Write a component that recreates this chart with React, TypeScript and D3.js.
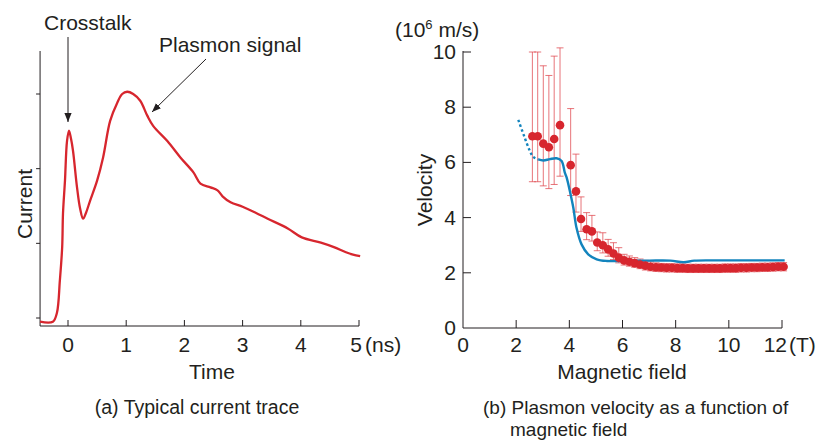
import React, { useEffect, useRef } from "react";
import * as d3 from "d3";

// (a) current trace, time in ns, current in arbitrary units
const traceTime = [-0.48, -0.26, -0.19, -0.14, -0.1, -0.086, -0.052, -0.017, 0.017, 0.052, 0.086, 0.155, 0.207, 0.259, 0.31, 0.379, 0.5, 0.603, 0.724, 0.845, 0.931, 1.017, 1.12, 1.241, 1.362, 1.466, 1.707, 1.931, 2.155, 2.276, 2.448, 2.569, 2.655, 2.793, 3.0, 3.224, 3.431, 3.776, 4.017, 4.345, 4.569, 4.776, 4.897, 5.02];
const traceCurrent = [-0.05, -0.05, 0.07, 0.5, 0.95, 1.4, 1.84, 2.37, 2.51, 2.4, 2.24, 1.75, 1.47, 1.33, 1.41, 1.57, 1.84, 2.15, 2.64, 2.88, 3.0, 3.03, 3.0, 2.91, 2.71, 2.57, 2.37, 2.15, 1.95, 1.8, 1.75, 1.71, 1.63, 1.55, 1.49, 1.41, 1.33, 1.2, 1.08, 1.01, 0.95, 0.88, 0.85, 0.83];
const timeTicks = [0, 1, 2, 3, 4, 5];
const currentTicks = [0, 1, 2, 3];

// (b) measured velocity (10^6 m/s) vs magnetic field (T)
const fieldT = [2.61, 2.81, 3.02, 3.23, 3.43, 3.65, 4.05, 4.25, 4.44, 4.65, 4.85, 5.05, 5.26, 5.46, 5.66, 5.86, 6.06, 6.26, 6.46, 6.66, 6.86, 7.06, 7.26, 7.46, 7.66, 7.86, 8.06, 8.26, 8.46, 8.66, 8.86, 9.06, 9.26, 9.46, 9.66, 9.86, 10.06, 10.26, 10.46, 10.66, 10.86, 11.06, 11.26, 11.46, 11.66, 11.86, 12.06];
const velocity = [6.95, 6.95, 6.68, 6.55, 6.85, 7.35, 5.9, 4.95, 3.95, 3.58, 3.5, 3.1, 3.0, 2.85, 2.7, 2.55, 2.45, 2.4, 2.35, 2.3, 2.26, 2.22, 2.2, 2.19, 2.18, 2.18, 2.17, 2.17, 2.16, 2.16, 2.16, 2.16, 2.16, 2.16, 2.16, 2.17, 2.17, 2.17, 2.18, 2.18, 2.19, 2.19, 2.2, 2.2, 2.21, 2.22, 2.22];
const errLow = [5.3, 5.3, 5.15, 5.05, 5.2, 5.5, 4.8, 4.2, 3.5, 3.2, 3.15, 2.8, 2.72, 2.6, 2.48, 2.36, 2.28, 2.24, 2.2, 2.15, 2.1, 2.07, 2.05, 2.04, 2.03, 2.03, 2.02, 2.02, 2.01, 2.01, 2.01, 2.01, 2.01, 2.01, 2.01, 2.02, 2.02, 2.02, 2.03, 2.03, 2.04, 2.04, 2.05, 2.05, 2.06, 2.07, 2.07];
const errHigh = [10.0, 10.0, 9.5, 9.15, 9.85, 10.15, 7.95, 6.3, 4.75, 4.18, 4.08, 3.48, 3.45, 3.21, 3.09, 2.91, 2.67, 2.61, 2.55, 2.5, 2.45, 2.4, 2.36, 2.34, 2.33, 2.33, 2.32, 2.32, 2.31, 2.31, 2.31, 2.31, 2.31, 2.31, 2.31, 2.32, 2.32, 2.32, 2.33, 2.33, 2.34, 2.34, 2.35, 2.35, 2.36, 2.37, 2.37];

// theory curve: dotted part then solid part
const theoryDotB = [2.08, 2.3, 2.5, 2.64, 2.83];
const theoryDotV = [7.54, 6.95, 6.45, 6.2, 6.11];
const theoryB = [2.83, 3.02, 3.27, 3.52, 3.71, 3.83, 3.9, 4.02, 4.15, 4.27, 4.46, 4.71, 5.03, 5.4, 6.0, 7.0, 7.8, 8.3, 8.7, 9.5, 10.5, 11.5, 12.1];
const theoryV = [6.11, 6.07, 6.12, 6.15, 6.05, 5.63, 5.45, 4.96, 4.36, 3.63, 3.03, 2.67, 2.49, 2.43, 2.43, 2.44, 2.44, 2.38, 2.44, 2.45, 2.45, 2.45, 2.45];
const fieldTicks = [0, 2, 4, 6, 8, 10, 12];
const velocityTicks = [0, 2, 4, 6, 8, 10];

const FONT = "'Liberation Sans', Arial, Helvetica, sans-serif";
const INK = "#231f20";
const RED = "#d7262e";
const BLUE = "#1384bd";
const FS = 21;

const App = () => {
  const ref = useRef<SVGSVGElement>(null);

  useEffect(() => {
    const svg = d3.select(ref.current);
    svg.selectAll("*").remove();

    svg.append("defs").append("marker")
      .attr("id", "arrow")
      .attr("viewBox", "0 0 10 10")
      .attr("refX", 10)
      .attr("refY", 5)
      .attr("markerWidth", 9)
      .attr("markerHeight", 9)
      .attr("markerUnits", "userSpaceOnUse")
      .attr("orient", "auto")
      .append("path")
      .attr("d", "M0,1 L10,5 L0,9 Z")
      .attr("fill", INK);

    const txt = (x: number, y: number, s: string, anchor = "start", size = FS) =>
      svg.append("text")
        .attr("x", x)
        .attr("y", y)
        .attr("text-anchor", anchor)
        .attr("font-family", FONT)
        .attr("font-size", size)
        .attr("fill", INK)
        .text(s);

    // ===== (a) current trace =====
    const xA = d3.scaleLinear().domain([0, 5]).range([68, 359]);
    const yA = d3.scaleLinear().domain([0, 3]).range([318, 94]);
    const aLeft = xA(-0.48);
    const aBottom = 326;
    const aTop = 51;

    const ga = svg.append("g");
    ga.append("line").attr("x1", aLeft).attr("x2", aLeft).attr("y1", aTop).attr("y2", aBottom)
      .attr("stroke", INK).attr("stroke-width", 1);
    ga.append("line").attr("x1", aLeft).attr("x2", xA(5)).attr("y1", aBottom).attr("y2", aBottom)
      .attr("stroke", INK).attr("stroke-width", 1);
    timeTicks.forEach((t) => {
      ga.append("line").attr("x1", xA(t)).attr("x2", xA(t)).attr("y1", aBottom).attr("y2", aBottom - 6)
        .attr("stroke", INK).attr("stroke-width", 1);
      txt(t === 5 ? xA(t) + 3 : xA(t), 352, String(t), t === 5 ? "end" : "middle");
    });
    currentTicks.forEach((c) => {
      ga.append("line").attr("x1", aLeft - 4).attr("x2", aLeft).attr("y1", yA(c)).attr("y2", yA(c))
        .attr("stroke", INK).attr("stroke-width", 1);
    });
    txt(xA(5) + 6, 352, "(ns)");
    txt(212, 379, "Time", "middle");
    svg.append("text")
      .attr("transform", "translate(32,204) rotate(-90)")
      .attr("text-anchor", "middle")
      .attr("font-family", FONT)
      .attr("font-size", FS)
      .attr("fill", INK)
      .text("Current");

    const lineA = d3.line<number>()
      .x((_, i) => xA(traceTime[i]))
      .y((d) => yA(d))
      .curve(d3.curveCatmullRom.alpha(0.5));
    ga.append("path")
      .attr("d", lineA(traceCurrent))
      .attr("fill", "none")
      .attr("stroke", RED)
      .attr("stroke-width", 2.3)
      .attr("stroke-linejoin", "round");

    // annotations
    txt(44, 30, "Crosstalk");
    svg.append("line").attr("x1", xA(0)).attr("x2", xA(0)).attr("y1", 37).attr("y2", 122)
      .attr("stroke", INK).attr("stroke-width", 1).attr("marker-end", "url(#arrow)");
    txt(159, 52, "Plasmon signal");
    svg.append("line").attr("x1", 206).attr("x2", 152).attr("y1", 59).attr("y2", 112)
      .attr("stroke", INK).attr("stroke-width", 1).attr("marker-end", "url(#arrow)");

    // ===== (b) plasmon velocity =====
    const xB = d3.scaleLinear().domain([0, 12]).range([463, 782]);
    const yB = d3.scaleLinear().domain([0, 10]).range([328, 52]);
    const gb = svg.append("g");

    // error bars
    fieldT.forEach((b, i) => {
      const x = xB(b);
      const col = "#e0474e";
      gb.append("line").attr("x1", x).attr("x2", x).attr("y1", yB(errLow[i])).attr("y2", yB(errHigh[i]))
        .attr("stroke", col).attr("stroke-width", 1).attr("opacity", 0.75);
      [errLow[i], errHigh[i]].forEach((e) => {
        gb.append("line").attr("x1", x - 3.5).attr("x2", x + 3.5).attr("y1", yB(e)).attr("y2", yB(e))
          .attr("stroke", col).attr("stroke-width", 1).attr("opacity", 0.75);
      });
    });

    // theory
    gb.append("path")
      .attr("d", d3.line<number>()
        .x((_, i) => xB(theoryDotB[i]))
        .y((d) => yB(d))
        .curve(d3.curveCatmullRom.alpha(0.5))(theoryDotV))
      .attr("fill", "none")
      .attr("stroke", BLUE)
      .attr("stroke-width", 2.4)
      .attr("stroke-dasharray", "2.5,2.5");
    gb.append("path")
      .attr("d", d3.line<number>()
        .x((_, i) => xB(theoryB[i]))
        .y((d) => yB(d))
        .curve(d3.curveCatmullRom.alpha(0.5))(theoryV))
      .attr("fill", "none")
      .attr("stroke", BLUE)
      .attr("stroke-width", 2.4);

    // dots
    fieldT.forEach((b, i) => {
      gb.append("circle").attr("cx", xB(b)).attr("cy", yB(velocity[i])).attr("r", 4.3)
        .attr("fill", RED);
    });

    // axes
    gb.append("line").attr("x1", xB(0)).attr("x2", xB(0)).attr("y1", yB(10) - 1).attr("y2", yB(0))
      .attr("stroke", INK).attr("stroke-width", 1);
    gb.append("line").attr("x1", xB(0)).attr("x2", xB(12)).attr("y1", yB(0)).attr("y2", yB(0))
      .attr("stroke", INK).attr("stroke-width", 1);
    velocityTicks.forEach((v) => {
      if (v > 0) {
        gb.append("line").attr("x1", xB(0)).attr("x2", xB(0) + 8).attr("y1", yB(v)).attr("y2", yB(v))
          .attr("stroke", INK).attr("stroke-width", 1);
      }
      txt(xB(0) - 7, yB(v) + 7, String(v), "end");
    });
    fieldTicks.forEach((b) => {
      if (b > 0) {
        gb.append("line").attr("x1", xB(b)).attr("x2", xB(b)).attr("y1", yB(0)).attr("y2", yB(0) - 8)
          .attr("stroke", INK).attr("stroke-width", 1);
      }
      txt(b === 12 ? xB(b) + 5 : xB(b), 352, String(b), b === 12 ? "end" : "middle");
    });
    txt(xB(12) + 7, 352, "(T)");
    txt(622, 379, "Magnetic field", "middle");
    svg.append("text")
      .attr("transform", "translate(432,190) rotate(-90)")
      .attr("text-anchor", "middle")
      .attr("font-family", FONT)
      .attr("font-size", FS)
      .attr("fill", INK)
      .text("Velocity");
    const unit = txt(395, 37, "(10");
    unit.append("tspan").attr("font-size", 13).attr("dy", -8).text("6");
    unit.append("tspan").attr("dy", 8).text(" m/s)");

    // captions
    txt(197, 414, "(a) Typical current trace", "middle", 19.5);
    txt(483, 414, "(b) Plasmon velocity as a function of", "start", 19);
    txt(510, 436, "magnetic field", "start", 19);
  }, []);

  return (
    <div>
      <svg ref={ref} width={817} height={440} style={{ position: "absolute", left: 0, top: 0, background: "#fff" }} />
    </div>
  );
};

export default App;
